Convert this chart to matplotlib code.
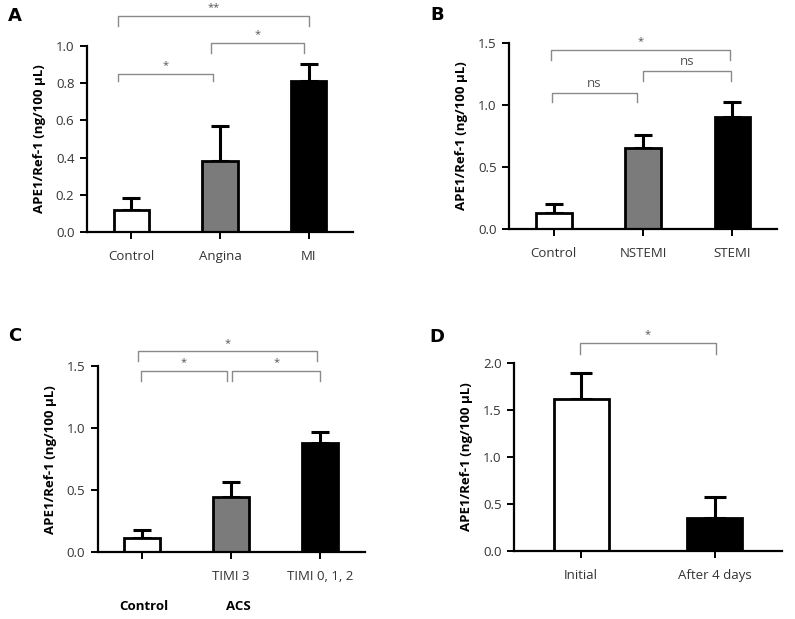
import matplotlib.pyplot as plt
import numpy as np

plt.rcParams['font.family'] = ['Open Sans', 'DejaVu Sans']

# Panel A
a_groups = ['Control', 'Angina', 'MI']
a_means = [0.12, 0.38, 0.81]
a_err = [0.065, 0.19, 0.095]
# Panel B
b_groups = ['Control', 'NSTEMI', 'STEMI']
b_means = [0.13, 0.65, 0.90]
b_err = [0.07, 0.11, 0.12]
# Panel C
c_groups = ['', 'TIMI 3', 'TIMI 0, 1, 2']
c_means = [0.115, 0.45, 0.88]
c_err = [0.065, 0.12, 0.09]
# Panel D
d_groups = ['Initial', 'After 4 days']
d_means = [1.62, 0.35]
d_err = [0.27, 0.225]

colors3 = ['white', '#7b7b7b', 'black']
colors2 = ['white', 'black']

# brackets: (x1, x2, y, drop, text)
a_br = [(-0.15, 2.0, 1.16, 0.055, '**'), (-0.15, 0.92, 0.85, 0.04, '*'),
        (0.9, 1.95, 1.015, 0.055, '*')]
b_br = [(-0.03, 1.97, 1.445, 0.08, '*'), (-0.02, 0.93, 1.10, 0.08, 'ns'),
        (1.0, 1.98, 1.275, 0.08, 'ns')]
c_br = [(-0.05, 1.96, 1.62, 0.08, '*'), (-0.01, 0.95, 1.465, 0.085, '*'),
        (1.01, 2.0, 1.465, 0.085, '*')]
d_br = [(-0.01, 1.01, 2.21, 0.11, '*')]

fig = plt.figure(figsize=(7.95, 6.19), dpi=100)


def panel(rect, groups, means, err, colors, ymax, ystep, brackets, letter, letter_xy, capsize, width=0.4):
    ax = fig.add_axes(rect)
    x = np.arange(len(groups))
    ax.bar(x, means, width=width, color=colors, edgecolor='black', linewidth=2, zorder=2)
    ax.errorbar(x, means, yerr=[np.zeros(len(err)), err], fmt='none', ecolor='black',
                elinewidth=2.2, capsize=capsize, capthick=2.2, zorder=1)
    ax.set_xlim(-0.5, len(groups) - 0.5)
    ax.set_ylim(0, ymax)
    ticks = np.arange(0, ymax + 0.001, ystep)
    ax.set_yticks(ticks)
    ax.set_yticklabels([f'{v:.1f}' for v in ticks])
    ax.set_xticks(x)
    ax.set_xticklabels(groups)
    for s in ['top', 'right']:
        ax.spines[s].set_visible(False)
    for s in ['left', 'bottom']:
        ax.spines[s].set_linewidth(1.6)
    ax.tick_params(axis='both', width=1.4, length=5, labelsize=9.5, labelcolor='#333333', pad=4)
    ax.tick_params(axis='x', pad=8)
    ax.set_ylabel('APE1/Ref-1 (ng/100 μL)', fontsize=9.5, fontweight='bold', labelpad=7)
    for x1, x2, y, d, t in brackets:
        ax.plot([x1, x1, x2, x2], [y - d, y, y, y - d], color='#8a8a8a', lw=1.0, clip_on=False)
        ax.text((x1 + x2) / 2, y + ymax * 0.015, t, ha='center', va='bottom',
                fontsize=8 if t != 'ns' else 9.5, color='#555555', clip_on=False)
    fig.text(letter_xy[0] / 795, 1 - letter_xy[1] / 619, letter, fontsize=13, fontweight='bold',
             ha='center', va='center', family='DejaVu Sans')
    return ax


panel([0.1094, 0.6252, 0.3346, 0.3005], a_groups, a_means, a_err, colors3, 1.0, 0.2, a_br, 'A', (15, 16), 6.5)
panel([0.6403, 0.6305, 0.3371, 0.3000], b_groups, b_means, b_err, colors3, 1.5, 0.5, b_br, 'B', (437, 15), 6.5)
panel([0.1229, 0.1077, 0.3359, 0.3005], c_groups, c_means, c_err, colors3, 1.5, 0.5, c_br, 'C', (15, 336), 6.5)
panel([0.6469, 0.1099, 0.3364, 0.3037], d_groups, d_means, d_err, colors2, 2.0, 0.5, d_br, 'D', (437, 337), 8, width=0.41)

# group labels under panel C
fig.text(144 / 795, 1 - 606 / 619, 'Control', fontsize=9.5, fontweight='bold', ha='center', va='center')
fig.text(238 / 795, 1 - 606 / 619, 'ACS', fontsize=9.5, fontweight='bold', ha='center', va='center')

fig.savefig('out.png', dpi=100)
